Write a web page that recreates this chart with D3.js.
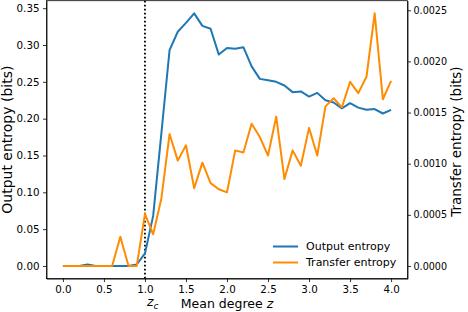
<!DOCTYPE html>
<html>
<head>
<meta charset="utf-8">
<script src="https://cdnjs.cloudflare.com/ajax/libs/d3/7.8.5/d3.min.js"></script>
<style>
    body { margin: 0; background: #fff; }
    text { font-family: "DejaVu Sans", sans-serif; fill: #000; }
    .axis path, .axis line { stroke: #000; stroke-width: 0.8; }
</style>
</head>
<body>
<div id="chart"></div>
<script>
// mean degree z
var meanDegree = [0.0, 0.1, 0.2, 0.3, 0.4, 0.5, 0.6, 0.7, 0.8, 0.9,
                  1.0, 1.1, 1.2, 1.3, 1.4, 1.5, 1.6, 1.7, 1.8, 1.9,
                  2.0, 2.1, 2.2, 2.3, 2.4, 2.5, 2.6, 2.7, 2.8, 2.9,
                  3.0, 3.1, 3.2, 3.3, 3.4, 3.5, 3.6, 3.7, 3.8, 3.9, 4.0];
// output entropy (bits), left axis
var outputEntropy = [0, 0, 0, 0.002, 0, 0, 0, 0, 0, 0.002,
                     0.017, 0.068, 0.18, 0.293, 0.318, 0.33, 0.343, 0.326, 0.322, 0.287,
                     0.296, 0.295, 0.297, 0.271, 0.254, 0.252, 0.250, 0.245, 0.236, 0.237,
                     0.230, 0.235, 0.225, 0.222, 0.214, 0.221, 0.215, 0.212, 0.213, 0.207, 0.212];
// transfer entropy (bits), right axis
var transferEntropy = [0, 0, 0, 0, 0, 0, 0, 0.000285, 0, 0,
                       0.00051, 0.00031, 0.00066, 0.00129, 0.00103, 0.00118, 0.00076, 0.00101, 0.00081, 0.00075,
                       0.00072, 0.00113, 0.00111, 0.00139, 0.00126, 0.00108, 0.00146, 0.00085, 0.00113, 0.00098,
                       0.00135, 0.00108, 0.00156, 0.00164, 0.00155, 0.00180, 0.00169, 0.00185, 0.00247, 0.00163, 0.00181];
var xTicks = [0.0, 0.5, 1.0, 1.5, 2.0, 2.5, 3.0, 3.5, 4.0];
var leftTicks = [0.00, 0.05, 0.10, 0.15, 0.20, 0.25, 0.30, 0.35];
var rightTicks = [0, 0.0005, 0.0010, 0.0015, 0.0020, 0.0025];
var criticalDegree = 1.0;

var W = 468, H = 312;
var margin = {top: 0.7, right: 60.5, bottom: 33.4, left: 46.5},
    width = W - margin.left - margin.right,
    height = H - margin.top - margin.bottom;

// matplotlib-like 5% padding
function pad(ext) {
    var d = (ext[1] - ext[0]) * 0.05;
    return [ext[0] - d, ext[1] + d];
}

var x = d3.scaleLinear().domain(pad(d3.extent(meanDegree))).range([0, width]);
var yOut = d3.scaleLinear().domain(pad([0, d3.max(outputEntropy)])).range([height, 0]);
var yTr = d3.scaleLinear().domain(pad([0, d3.max(transferEntropy)])).range([height, 0]);

var svg = d3.select("#chart")
    .append("svg")
        .attr("width", W)
        .attr("height", H)
    .append("g")
        .attr("transform", "translate(" + margin.left + "," + margin.top + ")");

var lineOut = d3.line()
    .x(function(d, i) { return x(meanDegree[i]); })
    .y(function(d) { return yOut(d); });
var lineTr = d3.line()
    .x(function(d, i) { return x(meanDegree[i]); })
    .y(function(d) { return yTr(d); });

// critical point
svg.append("line")
    .attr("x1", x(criticalDegree)).attr("x2", x(criticalDegree))
    .attr("y1", 0).attr("y2", height)
    .attr("stroke", "#000").attr("stroke-width", 1.8)
    .attr("stroke-dasharray", "1.8,2.2");

svg.append("path")
    .datum(outputEntropy)
    .attr("fill", "none").attr("stroke", "#1f77b4").attr("stroke-width", 2)
    .attr("stroke-linejoin", "round")
    .attr("d", lineOut);
svg.append("path")
    .datum(transferEntropy)
    .attr("fill", "none").attr("stroke", "#ff8c00").attr("stroke-width", 2)
    .attr("stroke-linejoin", "round")
    .attr("d", lineTr);

// axes
svg.append("g").attr("class", "axis")
    .attr("transform", "translate(0," + height + ")")
    .call(d3.axisBottom(x).tickValues(xTicks).tickFormat(d3.format(".1f")).tickSizeInner(3.5).tickSizeOuter(0).tickPadding(3.5))
    .call(function(g) { g.selectAll("text").style("font-size", "10.3px"); });
svg.append("g").attr("class", "axis")
    .call(d3.axisLeft(yOut).tickValues(leftTicks).tickFormat(d3.format(".2f")).tickSizeInner(3.5).tickSizeOuter(0).tickPadding(3.5))
    .call(function(g) { g.selectAll("text").style("font-size", "10.3px"); });
svg.append("g").attr("class", "axis")
    .attr("transform", "translate(" + width + ",0)")
    .call(d3.axisRight(yTr).tickValues(rightTicks).tickFormat(d3.format(".4f")).tickSizeInner(3.5).tickSizeOuter(0).tickPadding(2.5))
    .call(function(g) { g.selectAll("text").style("font-size", "9.6px"); });

// frame
svg.append("rect")
    .attr("width", width).attr("height", height)
    .attr("fill", "none").attr("stroke", "#000").attr("stroke-width", 0.8);

// axis labels
var xl = svg.append("text")
    .attr("x", width / 2).attr("y", height + 29)
    .style("text-anchor", "middle").style("font-size", "12.5px");
xl.append("tspan").text("Mean degree ");
xl.append("tspan").style("font-style", "italic").text("z");

var zc = svg.append("text")
    .attr("x", x(criticalDegree) + 2).attr("y", height + 27)
    .style("text-anchor", "start").style("font-size", "12.5px");
zc.append("tspan").style("font-style", "italic").text("z");
zc.append("tspan").attr("dy", 3).style("font-style", "italic").style("font-size", "9px").text("c");

svg.append("text")
    .attr("transform", "translate(" + (-34.5) + "," + (height / 2) + ") rotate(-90)")
    .style("text-anchor", "middle").style("font-size", "14px")
    .text("Output entropy (bits)");
svg.append("text")
    .attr("transform", "translate(" + (width + 53.5) + "," + (height / 2 + 2) + ") rotate(-90)")
    .style("text-anchor", "middle").style("font-size", "13.5px")
    .text("Transfer entropy (bits)");

// legend
var legend = [["Output entropy", "#1f77b4"], ["Transfer entropy", "#ff8c00"]];
legend.forEach(function(l, i) {
    var ly = 246.5 + i * 16 - margin.top;
    svg.append("line")
        .attr("x1", 273 - margin.left).attr("x2", 298 - margin.left)
        .attr("y1", ly).attr("y2", ly)
        .attr("stroke", l[1]).attr("stroke-width", 2);
    svg.append("text")
        .attr("x", 306 - margin.left).attr("y", ly)
        .attr("dy", "0.35em").style("font-size", "11px")
        .text(l[0]);
});
</script>
</body>
</html>
